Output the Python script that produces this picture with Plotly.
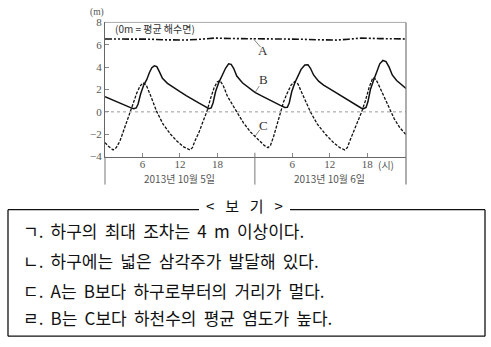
import plotly.graph_objects as go

W, H = 491, 347

# Water level (m) at three stations over two days (hours from 00:00, 5 Oct 2013)
hours_a = [0, 4, 7, 10, 13, 15.5, 17.5, 20, 24, 28, 31, 34, 37, 39, 41, 44, 48.2]
level_a = [6.52, 6.54, 6.5, 6.44, 6.43, 6.5, 6.6, 6.56, 6.56, 6.52, 6.5, 6.45, 6.42, 6.5, 6.6, 6.55, 6.52]

hours_b = [0, 1, 2, 3, 4, 4.6, 5.0, 5.3, 5.7, 6.2, 6.7, 7.1, 7.5, 7.9, 8.3, 8.7, 9.2, 10, 11, 12,
           13, 14, 15, 16, 16.6, 17.0, 17.3, 17.7, 18.2, 18.8, 19.3, 19.8, 20.2, 20.6, 21.1, 22,
           23, 24, 25, 26, 27, 28, 28.8, 29.2, 29.5, 29.9, 30.4, 30.9, 31.4, 32.0, 32.5, 32.9,
           33.4, 34.2, 35, 36, 37, 38, 39, 40, 41, 41.4, 41.8, 42.1, 42.5, 43, 43.5, 44, 44.5,
           45, 45.5, 46, 46.7, 47.5, 48.2]
level_b = [1.35, 1.1, 0.9, 0.65, 0.4, 0.28, 0.35, 0.7, 1.6, 2.4, 2.9, 3.5, 3.95, 4.12, 4.05, 3.6,
           3.0, 2.55, 2.15, 1.8, 1.45, 1.1, 0.8, 0.5, 0.28, 0.35, 0.8, 1.8, 2.6, 3.3, 3.9, 4.3,
           4.25, 3.9, 3.2, 2.6, 2.15, 1.75, 1.45, 1.15, 0.88, 0.6, 0.4, 0.42, 0.8, 1.8, 2.6, 3.2,
           3.8, 4.2, 4.22, 3.9, 3.3, 2.75, 2.4, 2.05, 1.7, 1.35, 1.0, 0.7, 0.35, 0.28, 0.4, 0.9,
           2.0, 2.8, 3.6, 4.3, 4.6, 4.5, 4.0, 3.3, 2.8, 2.4, 2.1]

hours_c = [0, 0.6, 1.3, 1.8, 2.4, 3.0, 3.6, 4.1, 4.6, 5.1, 5.6, 6.1, 6.6, 7.2, 8.3, 9.3, 10.5,
           11.5, 12.5, 13.6, 14.0, 14.4, 15.0, 15.6, 16.3, 16.9, 17.5, 18.0, 18.4, 18.9, 19.6,
           21.1, 22.2, 23.3, 24.5, 25.5, 26.1, 26.5, 27.0, 27.5, 28.0, 28.6, 29.2, 29.8, 30.4,
           30.9, 31.6, 32.9, 34.0, 35.3, 36.5, 37.6, 38.4, 38.8, 39.2, 39.8, 40.4, 41.1, 41.7,
           42.3, 42.9, 43.4, 44.0, 44.8, 45.5, 46.3, 47.2, 48.2]
level_c = [-2.75, -3.1, -3.4, -3.2, -2.6, -1.7, -0.7, 0.1, 0.9, 1.7, 2.3, 2.6, 2.4, 1.6, 0.0,
           -1.1, -2.0, -2.6, -3.1, -3.4, -3.2, -2.6, -1.9, -1.0, 0.0, 1.2, 2.2, 2.7, 2.78, 2.4,
           1.4, 0.0, -1.0, -1.8, -2.5, -3.0, -3.2, -3.0, -2.2, -1.2, -0.1, 0.9, 1.7, 2.4, 2.7,
           2.5, 1.6, 0.0, -1.1, -2.0, -2.7, -3.2, -3.4, -3.2, -2.6, -1.8, -0.9, 0.0, 1.0, 2.2,
           3.05, 2.9, 2.2, 1.2, 0.3, -0.6, -1.4, -2.05]

y_ticks = [-4, -2, 0, 2, 4, 6, 8]
x_ticks = [6, 12, 18, 30, 36, 42]
x_tick_text = ["6", "12", "18", "6", "12", "18"]
day_labels = ["2013년 10월 5일", "2013년 10월 6일"]
day_centers = [12, 36]
header = "< 보 기 >"
statements = [
    "ㄱ. 하구의 최대 조차는 4 m 이상이다.",
    "ㄴ. 하구에는 넓은 삼각주가 발달해 있다.",
    "ㄷ. A는 B보다 하구로부터의 거리가 멀다.",
    "ㄹ. B는 C보다 하천수의 평균 염도가 높다.",
]


def px_x(p):
    return p / W


def px_y(p):
    return 1 - p / H


def widen(text):
    # a slightly wider word gap, as in the printed sheet
    return text.replace(" ", "\u00a0\u2009")


# plot area in pixels
L, R, T, B = 105, 406, 17, 156
X_MAX = 48.2

serif = "Liberation Serif"
kr = "Noto Sans CJK KR"
grey = "#555555"

fig = go.Figure()
fig.add_trace(go.Scatter(x=hours_a, y=level_a, mode="lines",
                         line=dict(color="#111", width=1.6, dash="7px,2px,2px,2px,2px,2px")))
fig.add_trace(go.Scatter(x=hours_b, y=level_b, mode="lines",
                         line=dict(color="#111", width=1.5)))
fig.add_trace(go.Scatter(x=hours_c, y=level_c, mode="lines",
                         line=dict(color="#111", width=1.3, dash="3px,1.5px")))

fig.update_layout(
    width=W, height=H, margin=dict(l=0, r=0, t=0, b=0),
    paper_bgcolor="white", plot_bgcolor="white", showlegend=False,
    xaxis=dict(domain=[px_x(L), px_x(R)], range=[0, X_MAX], showgrid=False, zeroline=False,
               tickvals=x_ticks, ticktext=x_tick_text, ticks="inside", ticklen=4,
               tickcolor="#888", showline=True, linecolor="#666", linewidth=1,
               ticklabelstandoff=-3,
               tickfont=dict(family=serif, size=11, color=grey)),
    yaxis=dict(domain=[px_y(B), px_y(T)], range=[-4, 8], showgrid=False, zeroline=False,
               tickvals=y_ticks, ticks="inside", ticklen=4, tickcolor="#888",
               showline=True, linecolor="#666", linewidth=1,
               tickfont=dict(family=serif, size=11, color=grey)),
)

shapes = [
    # zero reference line
    dict(type="line", xref="x", yref="y", x0=0, x1=X_MAX, y0=0, y1=0,
         line=dict(color="#999", width=1, dash="dot")),
    # top border
    dict(type="line", xref="paper", yref="paper", x0=px_x(L), x1=px_x(R),
         y0=px_y(T), y1=px_y(T), line=dict(color="#aaa", width=1)),
    # right border running below the axis
    dict(type="line", xref="paper", yref="paper", x0=px_x(R), x1=px_x(R),
         y0=px_y(T), y1=px_y(185), line=dict(color="#777", width=1.2)),
    # left axis extension
    dict(type="line", xref="paper", yref="paper", x0=px_x(L), x1=px_x(L),
         y0=px_y(B), y1=px_y(185), line=dict(color="#777", width=1)),
    # midnight divider between the two days
    dict(type="line", xref="x", yref="paper", x0=24, x1=24,
         y0=px_y(152), y1=px_y(185), line=dict(color="#777", width=1)),
    # leader lines to curve labels
    dict(type="line", xref="x", yref="y", x0=23.7, y0=6.58, x1=24.9, y1=5.8,
         line=dict(color="#666", width=0.8)),
    dict(type="line", xref="x", yref="y", x0=24.0, y0=1.72, x1=24.7, y1=2.3,
         line=dict(color="#666", width=0.8)),
    dict(type="line", xref="x", yref="y", x0=24.0, y0=-2.2, x1=24.8, y1=-1.6,
         line=dict(color="#666", width=0.8)),
    # frame of the statement box (split around the header)
    dict(type="line", xref="paper", yref="paper", x0=px_x(8), x1=px_x(199),
         y0=px_y(211), y1=px_y(211), line=dict(color="#111", width=1.3)),
    dict(type="line", xref="paper", yref="paper", x0=px_x(290), x1=px_x(485),
         y0=px_y(211), y1=px_y(211), line=dict(color="#111", width=1.3)),
    dict(type="line", xref="paper", yref="paper", x0=px_x(8), x1=px_x(8),
         y0=px_y(211), y1=px_y(342), line=dict(color="#111", width=1.3)),
    dict(type="line", xref="paper", yref="paper", x0=px_x(485), x1=px_x(485),
         y0=px_y(211), y1=px_y(342), line=dict(color="#111", width=1.3)),
    dict(type="line", xref="paper", yref="paper", x0=px_x(8), x1=px_x(485),
         y0=px_y(342), y1=px_y(342), line=dict(color="#111", width=1.3)),
]
fig.update_layout(shapes=shapes)


def label(text, x, y, size, family, color, xanchor="center", xref="paper", **kw):
    return dict(text=text, xref=xref, yref="paper", x=x, y=y, xanchor=xanchor,
                yanchor="middle", showarrow=False,
                font=dict(family=family, size=size, color=color), **kw)


ann = [
    label("(m)", px_x(97), px_y(7), 9.5, serif, grey),
    label("(0m = 평균 해수면)", px_x(113), px_y(23), 10, kr, "#333", xanchor="left"),
    label("(시)", 42, px_y(164), 10, kr, grey, xanchor="left", xref="x", xshift=9),
    label(header.replace(" ", "\u2002\u00a0"), px_x(244), px_y(207), 15, kr, "#111"),
]
for name, yy in zip(["A", "B", "C"], [46.5, 76.5, 123.5]):
    ann.append(label(name, px_x(263), px_y(yy), 13, serif, "#333"))
for lab, c in zip(day_labels, day_centers):
    ann.append(label(lab, c, px_y(178.5), 10, kr, grey, xref="x"))
for s, yy in zip(statements, [233, 264, 295, 323]):
    ann.append(label(widen(s), px_x(21), px_y(yy), 17, kr, "#111", xanchor="left"))
fig.update_layout(annotations=ann)

fig.write_html("out.html")
